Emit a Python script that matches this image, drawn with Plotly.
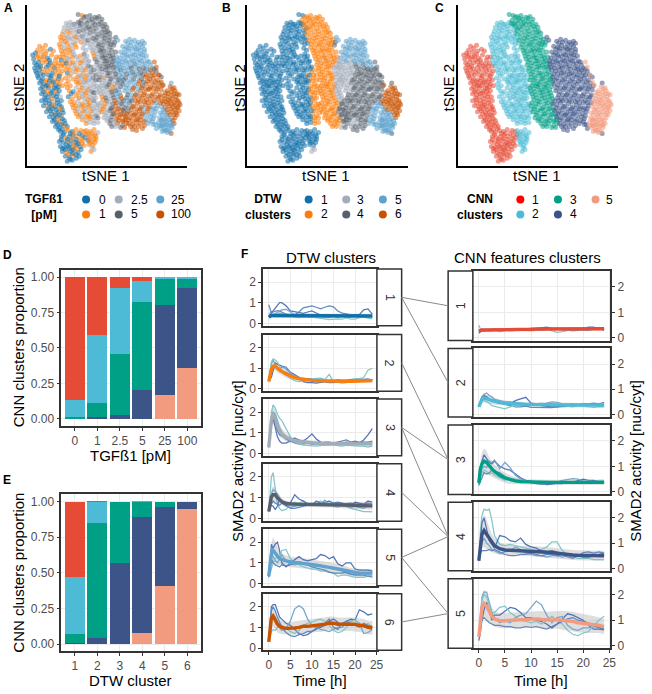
import plotly.graph_objects as go

W, H = 652, 694
FONT = "Liberation Sans"
TICK_C = "#4d4d4d"
EDGE = "#333333"
GRID = "#ebebeb"

TABLEAU = ["#1170AA", "#FC7D0B", "#A3ACB9", "#57606C", "#5FA2CE", "#C85200"]
NPG = ["#E64B35", "#4DBBD5", "#00A087", "#3C5488", "#F39B7F"]
THIN = {"dark": "#4A6FB5", "dark2": "#5B84BC", "mid": "#6FA3C9", "teal": "#7FC3C6"}

# tSNE points grouped by CNN cluster: (tsne1, tsne2, dtw cluster, TGF dose index)
CNN1_POINTS = [(13,121,1,1),(16,119,1,1),(19,122,1,1),(11,117,1,1),(15,115,1,1),(20,116,1,1),(24,118,1,0),(9,114,1,0),
(7,108,1,0),(10,110,1,1),(13,108,1,1),(17,111,1,1),(21,109,1,0),(25,112,1,1),(29,107,1,1),(33,110,1,1),(8,104,1,0),(12,105,1,0),(16,104,1,1),(20,105,1,1),(24,104,1,0),(28,103,1,1),(32,104,1,1),
(8,99,1,0),(12,100,1,0),(16,98,1,1),(20,100,1,0),(24,98,1,1),(28,99,1,0),(32,97,1,1),(10,94,1,0),(14,93,1,0),(18,95,1,1),(22,92,1,0),(26,94,1,0),(30,92,1,1),(34,93,1,1),(12,89,1,0),(16,88,1,0),(20,87,1,1),(24,89,1,0),(28,87,1,1),(32,88,1,0),
(13,84,1,0),(17,83,1,0),(21,82,1,0),(25,84,1,1),(29,82,1,0),(33,83,1,1),(14,78,1,0),(18,77,1,1),(22,79,1,0),(26,76,1,0),(30,78,1,0),(15,73,1,0),(19,72,1,0),(23,73,1,1),(27,71,1,0),(31,73,1,0),(34,70,1,2),
(15,66,1,0),(19,67,1,0),(23,66,1,0),(27,65,1,2),(31,67,1,0),(17,61,1,0),(21,60,1,1),(25,61,1,0),(29,60,1,0),(33,62,1,0),(20,55,1,0),(24,56,1,0),(28,54,1,1),(32,55,1,0),(36,57,1,0),(23,50,1,0),(27,49,1,0),(31,50,1,0),(35,51,1,1),
(26,45,1,0),(30,44,1,0),(34,45,1,1),(38,46,1,0),(29,40,1,0),(33,39,1,0),(37,41,1,1),(41,40,1,0),
(34,35,1,0),(38,34,1,0),(42,36,1,1),(46,35,1,0),(50,37,1,1),(55,36,1,1),(35,30,1,0),(39,29,1,1),(43,30,1,0),(47,31,1,0),(51,30,1,1),(56,31,1,0),(60,32,1,1),
(33,25,1,0),(37,24,1,0),(41,25,1,1),(45,26,1,0),(49,24,1,0),(53,25,1,1),(57,26,1,1),(34,20,1,0),(38,19,1,0),(42,20,1,0),(46,19,1,1),(50,21,1,0),(54,20,1,0),(58,21,1,1),
(36,15,1,0),(40,14,1,1),(44,15,1,0),(48,16,1,1),(52,14,1,0),(39,10,1,0),(43,9,1,0),(47,11,1,1),(46,6,1,0),(50,8,1,0),(53,10,1,0),
(11,112,1,1),(15,110,1,1),(19,113,1,1),(23,107,1,0),(27,116,1,1),(31,101,1,1),(6,112,1,0),(10,102,1,0),(14,101,1,0),(18,107,1,1),(22,102,1,0),(26,101,1,1),(30,110,1,1),(35,101,1,1),(36,96,1,1),(9,96,1,0),(13,97,1,0),(17,92,1,0),(21,96,1,1),(25,91,1,0),(29,96,1,1),(33,91,1,0),(11,91,1,0),(15,86,1,0),(19,85,1,1),(23,86,1,0),(27,85,1,0),(31,85,1,1),(35,87,1,1),(16,80,1,0),(20,81,1,0),(24,81,1,1),(28,79,1,0),(32,80,1,0),(36,81,1,1),(17,75,1,0),(21,75,1,1),(25,74,1,0),(29,75,1,1),(33,76,1,0),(18,69,1,0),(22,70,1,0),(26,68,1,1),(30,70,1,0),(35,66,1,0),(19,64,1,0),(23,63,1,0),(27,62,1,1),(31,64,1,0),(35,60,1,0),(22,58,1,0),(26,58,1,0),(30,57,1,0),(34,58,1,1),(25,53,1,0),(29,52,1,0),(33,52,1,0),(37,54,1,0),(28,47,1,0),(32,47,1,1),(36,48,1,0),(31,42,1,0),(35,42,1,0),(39,43,1,0),(32,37,1,0),(36,37,1,0),(40,38,1,1),(44,33,1,0),(48,33,1,1),(53,33,1,0),(58,35,1,1),(37,32,1,0),(41,27,1,0),(46,28,1,1),(50,27,1,0),(55,28,1,1),(59,29,1,0),(35,27,1,0),(40,22,1,0),(44,22,1,0),(48,22,1,1),(52,23,1,0),(56,23,1,1),(36,18,1,0),(39,17,1,0),(43,18,1,0),(47,17,1,0),(51,18,1,1),(55,17,1,0),(42,12,1,1),(46,13,1,0),(50,12,1,0),(44,7,1,0),(41,5,1,0)]

CNN2_POINTS = [(40,144,1,2),(44,145,1,2),(48,143,1,3),(52,145,1,3),(38,140,1,2),(42,139,1,2),(46,140,1,2),(50,138,1,2),(54,141,1,3),(57,137,1,3),
(36,133,1,1),(40,132,1,2),(44,134,1,1),(48,131,1,2),(52,133,1,2),(56,131,1,3),(35,127,1,1),(39,126,1,1),(43,128,1,2),(47,125,1,2),(51,127,1,2),(55,125,1,1),(59,127,1,2),
(34,120,1,1),(38,119,1,2),(42,120,1,1),(46,118,1,2),(50,120,1,1),(57,119,1,2),(36,113,1,1),(40,112,1,1),(44,114,1,1),(48,112,1,2),(58,113,1,3),(35,107,1,0),(39,106,1,1),(43,108,1,2),(47,105,1,1),(52,107,1,2),(56,106,1,1),(60,108,1,2),
(38,101,1,1),(42,100,1,1),(46,102,1,2),(50,99,1,1),(54,101,1,2),(58,99,1,2),(62,101,1,3),(41,94,1,0),(45,93,1,2),(49,95,1,1),(53,92,1,2),(57,94,1,1),(61,92,2,2),(65,95,2,3),(39,89,1,1),(47,88,1,1),(51,87,1,2),(55,89,1,2),(59,87,1,1),(63,88,2,2),(67,89,2,3),
(40,83,1,1),(44,81,1,1),(52,83,1,1),(56,82,1,2),(60,84,1,2),(64,81,2,2),(68,83,2,2),(43,76,1,1),(47,75,1,0),(54,77,1,1),(58,75,1,2),(62,77,1,1),(66,75,2,3),(70,77,2,2),(42,70,1,0),(50,71,1,1),(56,70,1,2),(60,71,1,1),(64,69,1,2),(68,71,2,2),
(44,65,1,1),(48,64,1,1),(52,66,1,2),(56,63,1,1),(60,65,1,2),(64,64,1,1),(68,66,2,3),(72,63,2,2),(47,59,1,1),(51,58,1,2),(55,60,1,1),(59,58,1,2),(63,60,1,1),(67,58,2,2),(71,59,2,2),(50,53,1,1),(54,52,1,1),(58,54,1,2),(62,52,1,1),(66,53,2,2),(70,51,2,3),(56,47,1,1),(60,46,1,2),(64,48,1,1),(68,46,2,2),
(60,36,1,1),(64,35,1,1),(68,37,1,1),(61,31,1,2),(65,30,1,1),(69,32,1,1),(72,34,1,2),(62,26,1,0),(66,25,1,1),(70,27,1,1),(63,22,1,1),(67,21,1,1),(65,15,3,1),(68,17,3,2),
(42,142,1,2),(46,143,1,2),(50,141,1,2),(56,143,1,3),(60,139,1,3),(37,136,1,2),(41,136,1,1),(45,137,1,2),(49,135,1,2),(53,136,1,3),(58,134,1,2),(34,130,1,1),(38,129,1,1),(42,130,1,2),(46,129,1,2),(50,130,1,1),(54,129,1,2),(58,129,1,2),(61,124,1,2),(33,123,1,1),(37,123,1,2),(41,124,1,1),(45,122,1,2),(49,123,1,1),(58,123,1,2),(35,116,1,1),(39,116,1,1),(43,117,1,1),(47,115,1,2),(60,117,1,2),(61,111,1,2),(37,110,1,1),(41,109,1,2),(46,110,1,1),(50,110,1,2),(54,111,1,1),(58,110,1,2),(63,106,1,2),(36,103,1,1),(40,104,1,0),(44,104,1,1),(49,103,1,2),(54,104,1,1),(58,104,1,2),(62,105,1,2),(65,100,1,3),(40,97,1,1),(44,97,1,1),(48,98,1,2),(52,97,1,1),(56,97,1,2),(60,97,1,1),(64,98,1,2),(68,97,2,3),(43,91,1,1),(51,90,1,1),(55,91,1,2),(59,90,1,1),(63,92,1,2),(67,92,2,2),(70,92,2,3),(42,86,1,1),(50,85,1,1),(54,85,1,1),(58,85,1,2),(62,86,1,2),(66,86,2,2),(70,87,2,3),(41,79,1,1),(50,79,1,2),(56,79,1,1),(60,79,1,2),(64,78,2,2),(68,80,2,2),(71,81,2,2),(45,73,1,0),(52,74,1,1),(56,73,1,2),(60,74,1,1),(64,73,2,2),(68,74,2,3),(72,74,2,2),(46,68,1,1),(53,69,1,1),(58,68,1,2),(62,67,1,1),(66,68,2,2),(70,69,2,2),(46,62,1,1),(50,61,1,1),(54,62,1,2),(58,61,1,1),(62,62,1,1),(66,61,2,2),(70,62,2,2),(74,57,2,2),(49,56,1,1),(53,55,1,2),(57,56,1,1),(61,56,1,2),(65,56,1,1),(69,56,2,2),(73,54,2,2),(52,50,1,1),(56,50,1,2),(60,50,1,1),(64,50,1,1),(68,49,2,2),(72,49,2,3),(60,43,1,1),(64,44,1,2),(68,43,2,2),(72,44,2,2),(62,33,1,1),(66,33,1,1),(70,30,1,1),(63,28,1,1),(68,28,1,1),(64,24,1,1),(69,24,1,1),(66,19,3,2)]

CNN3_POINTS = [(52,153,1,3),(56,152,1,1),(60,151,2,3),(64,152,2,3),(69,150,2,3),(73,151,2,3),(55,147,2,3),(59,146,2,2),(63,147,2,3),(67,145,2,3),(71,146,2,2),(75,145,2,3),(79,143,2,3),(58,141,2,2),(62,140,2,3),(66,141,2,3),(70,139,2,3),(74,140,2,2),(78,138,2,3),(82,136,2,3),
(60,133,2,2),(64,134,2,3),(68,132,2,2),(72,133,2,3),(76,131,2,3),(80,132,2,3),(84,130,2,3),(62,127,2,3),(66,126,2,2),(70,127,2,3),(74,125,2,2),(78,126,2,3),(82,124,2,3),(86,125,2,2),(64,120,2,2),(68,119,2,2),(72,121,2,3),(76,119,2,3),(80,118,2,2),(84,120,2,3),(88,122,4,3),
(67,114,2,1),(71,113,2,2),(75,115,2,3),(79,112,2,3),(83,114,2,3),(87,112,2,3),(69,108,2,3),(73,107,2,2),(77,109,2,3),(81,106,2,3),(85,108,2,3),(89,106,2,4),(70,102,2,2),(74,101,2,3),(78,103,2,3),(82,101,2,3),(86,102,2,3),(90,100,3,4),
(72,96,2,2),(76,95,2,2),(80,97,2,3),(84,94,2,3),(88,96,3,3),(92,95,3,4),(74,90,2,3),(78,89,2,1),(82,91,2,3),(86,89,2,2),(90,90,3,3),(94,88,3,4),(76,84,2,2),(80,83,2,2),(84,85,2,3),(88,83,2,2),(92,84,3,3),
(73,79,2,2),(77,78,2,2),(81,80,2,3),(85,77,2,1),(89,79,3,2),(93,77,3,4),(75,73,2,2),(79,72,2,2),(83,74,2,2),(87,72,2,3),(91,73,3,4),(95,71,3,5),(77,67,2,1),(81,66,2,3),(85,68,2,2),(89,66,2,5),(93,67,3,4),
(74,61,2,2),(78,60,2,1),(82,62,2,2),(86,59,2,3),(90,61,2,5),(94,59,4,4),(76,55,2,1),(80,54,2,2),(84,56,2,3),(88,53,2,5),(92,55,4,5),(96,53,4,5),(78,49,2,2),(82,48,2,2),(86,50,2,3),(90,47,2,5),(94,49,4,5),(98,46,4,5),(84,43,2,3),(88,42,2,2),(92,43,2,5),(97,41,3,3),(101,43,4,5),
(58,150,2,3),(62,149,2,2),(66,148,2,3),(71,149,2,3),(76,148,2,3),(54,144,1,3),(57,143,2,2),(61,144,2,3),(65,143,2,2),(69,143,2,3),(73,143,2,3),(77,141,2,3),(81,140,2,3),(60,137,2,2),(64,138,2,3),(68,136,2,3),(72,136,2,2),(76,135,2,3),(80,135,2,3),(84,134,2,3),(87,128,2,2),(63,130,2,2),(67,129,2,3),(71,130,2,3),(75,128,2,2),(79,129,2,3),(83,127,2,3),(89,125,4,3),(65,123,2,2),(69,123,2,2),(73,123,2,3),(77,122,2,3),(81,122,2,2),(85,123,2,3),(66,117,2,2),(70,116,2,2),(74,117,2,3),(78,116,2,3),(82,117,2,2),(86,117,2,3),(90,115,2,3),(68,111,2,1),(72,110,2,2),(76,111,2,3),(80,109,2,3),(84,111,2,3),(88,109,2,3),(91,110,2,4),(71,105,2,3),(75,104,2,2),(79,106,2,3),(83,104,2,3),(87,105,2,3),(91,104,3,4),(72,99,2,2),(76,98,2,3),(80,100,2,3),(84,99,2,3),(88,100,3,3),(92,99,3,4),(74,93,2,2),(78,92,2,2),(82,94,2,3),(86,92,2,2),(90,93,3,3),(94,92,3,4),(73,87,2,3),(77,87,2,2),(81,86,2,2),(85,88,2,3),(89,86,3,2),(93,87,3,3),(96,85,3,4),(75,81,2,2),(79,81,2,2),(83,82,2,3),(87,80,2,1),(91,81,3,2),(95,80,3,3),(74,76,2,2),(78,75,2,2),(82,77,2,2),(86,75,2,3),(90,76,3,3),(94,74,3,4),(76,70,2,1),(80,69,2,3),(84,71,2,2),(88,69,2,3),(92,70,3,4),(96,68,3,5),(75,64,2,2),(79,63,2,1),(83,65,2,2),(87,63,2,3),(91,64,2,5),(95,63,4,4),(77,58,2,1),(81,57,2,2),(85,58,2,3),(89,57,2,5),(93,58,4,5),(97,57,4,5),(79,52,2,2),(83,51,2,2),(87,53,2,3),(91,51,2,5),(95,52,4,5),(99,51,4,5),(81,46,2,2),(85,46,2,3),(89,45,2,2),(93,46,2,5),(97,45,4,5),(100,47,4,5),(86,40,2,3),(90,40,2,2),(95,39,3,3),(99,39,4,5)]

CNN4_POINTS = [(100,126,5,4),(104,128,5,4),(109,127,5,4),(113,125,5,4),(117,126,5,4),(97,121,5,4),(101,120,5,4),(105,122,5,4),(109,120,5,4),(113,119,5,4),(117,121,5,4),(95,115,5,4),(99,114,5,4),(103,116,5,4),(107,113,5,4),(111,115,5,4),(115,113,5,4),(119,115,5,4),(90,130,5,3),(92,127,5,4),
(94,109,5,4),(98,108,5,4),(102,110,5,4),(106,107,3,4),(110,109,5,4),(114,107,5,4),(118,109,5,4),(122,106,5,4),(93,103,3,4),(97,102,3,4),(101,104,3,4),(105,101,3,4),(109,103,4,3),(113,101,5,4),(117,103,4,4),(121,100,5,4),(125,102,5,4),
(95,97,3,3),(99,96,3,4),(103,97,3,4),(107,95,3,3),(111,96,4,4),(115,94,4,3),(119,96,4,3),(123,95,4,4),(127,94,4,5),(131,96,4,3),(96,90,3,4),(100,89,3,3),(104,91,3,4),(108,88,4,3),(112,90,4,4),(116,88,4,3),(120,90,4,5),(124,88,4,5),(128,89,4,5),(132,87,4,5),(136,90,4,3),
(97,83,3,3),(101,82,3,4),(105,84,4,4),(109,81,4,4),(113,83,4,5),(117,81,4,3),(121,83,4,5),(125,80,4,5),(129,82,4,5),(133,80,4,5),(137,81,4,5),(99,76,3,4),(103,75,3,4),(107,77,4,5),(111,74,4,4),(115,76,4,5),(119,74,4,5),(123,77,4,5),(127,73,4,5),(131,75,4,5),(135,72,4,5),(101,69,4,3),(105,68,4,4),(109,70,4,5),(113,67,4,5),(117,69,4,5),(121,67,4,5),(125,68,4,5),(129,66,4,5),(133,68,4,5),
(96,63,4,3),(100,62,4,4),(104,64,4,3),(108,61,4,5),(112,63,4,5),(116,60,4,5),(120,62,4,5),(124,60,4,5),(128,59,5,4),(132,61,5,4),(98,56,4,3),(102,55,4,3),(106,57,4,5),(110,54,4,5),(114,56,4,5),(118,54,4,4),(122,55,4,5),(126,53,5,4),(130,55,5,4),
(100,50,4,5),(104,49,4,5),(108,51,4,5),(112,48,4,5),(116,50,4,5),(120,47,4,4),(124,46,5,4),(128,48,5,4),(103,43,3,5),(107,42,3,5),(111,44,3,5),(115,43,4,5),(119,41,4,5),(128,42,5,4),(131,38,5,4),(107,37,4,5),(111,36,4,5),(146,33,4,5),(146,84,4,4),
(102,124,5,4),(106,125,5,4),(111,123,5,4),(115,123,5,4),(119,124,5,4),(99,118,5,4),(103,119,5,4),(107,118,5,4),(111,118,5,4),(115,117,5,4),(119,118,5,4),(97,112,5,4),(101,112,5,4),(105,111,5,4),(109,112,5,4),(113,111,5,4),(117,112,5,4),(121,111,5,4),(93,106,3,4),(96,105,3,4),(100,106,5,4),(104,105,3,4),(108,106,5,4),(112,105,5,4),(116,106,5,4),(120,104,5,4),(124,105,5,4),(127,99,5,4),(94,100,3,4),(98,99,3,4),(102,100,3,4),(106,99,3,3),(110,100,4,4),(114,98,4,3),(118,99,4,3),(122,98,4,4),(125,97,4,5),(129,98,4,3),(133,92,4,5),(97,93,3,4),(101,93,3,3),(105,94,3,4),(109,92,4,3),(113,93,4,4),(117,92,4,3),(121,92,4,5),(125,91,4,5),(129,92,4,5),(98,87,3,3),(102,86,3,4),(106,87,4,4),(110,85,4,4),(114,86,4,5),(118,85,4,3),(122,86,4,5),(126,85,4,5),(130,85,4,5),(134,84,4,5),(100,79,3,4),(104,79,3,4),(108,79,4,5),(112,78,4,4),(116,79,4,5),(120,78,4,5),(124,78,4,5),(128,78,4,5),(132,78,4,5),(136,77,4,5),(102,72,4,3),(106,72,4,4),(110,72,4,5),(114,71,4,5),(118,72,4,5),(122,71,4,5),(126,71,4,5),(130,70,4,5),(134,70,4,5),(98,66,4,3),(102,66,4,4),(106,66,4,3),(110,66,4,5),(115,65,4,5),(119,65,4,5),(123,64,4,5),(127,64,4,5),(131,64,5,4),(135,64,4,5),(99,59,4,3),(103,59,4,3),(107,60,4,5),(111,58,4,5),(115,58,4,5),(119,58,4,4),(123,58,4,5),(127,57,5,4),(131,58,5,4),(101,53,4,5),(105,53,4,5),(109,52,4,5),(113,52,4,5),(117,53,4,5),(121,51,4,4),(125,50,5,4),(129,51,5,4),(103,47,4,5),(107,46,3,5),(111,47,3,5),(115,47,4,5),(119,45,4,5),(123,43,5,4),(105,40,3,5),(109,40,4,5),(113,40,4,5),(117,38,4,5),(127,45,5,4),(130,42,5,4)]

CNN5_POINTS = [(129,105,4,5),(131,100,4,5),(134,92,4,5),(136,85,4,5),(138,82,6,5),
(145,80,6,5),(149,79,6,5),(142,76,6,5),(146,75,6,5),(150,76,6,5),(139,71,6,5),(143,70,6,5),(147,71,6,5),(151,70,6,5),(154,72,6,5),(137,66,6,5),(141,65,6,5),(145,66,6,5),(149,64,6,5),(153,66,6,5),(136,60,5,4),(140,59,6,5),(144,61,6,5),(148,60,6,5),(152,59,6,5),(155,62,6,5),(135,54,5,4),(139,55,5,4),(143,54,5,5),(147,55,6,5),(151,54,6,5),(154,56,6,5),(134,49,5,4),(138,48,5,4),(142,50,5,4),(146,48,5,4),(150,49,6,5),(133,44,5,4),(137,43,5,4),(141,45,5,4),(145,44,5,4),(149,43,5,5),(135,39,5,4),(139,38,5,4),(143,40,5,4),(147,39,5,4),(137,35,5,4),(141,36,5,4),(145,35,5,4),(136,41,5,4),(140,42,5,4),(144,47,5,4),(136,46,5,4),
(143,73,6,5),(147,78,6,5),(140,74,6,5),(149,73,6,5),(152,73,6,5),(139,68,6,5),(143,67,6,5),(147,68,6,5),(151,67,6,5),(138,63,6,5),(142,63,6,5),(146,63,6,5),(150,62,6,5),(154,64,6,5),(138,57,5,4),(142,57,6,5),(146,58,6,5),(150,57,6,5),(153,60,6,5),(137,52,5,4),(141,52,5,4),(145,52,5,5),(149,52,6,5),(152,52,6,5),(136,47,5,4),(140,47,5,4),(148,46,5,5),(134,41,5,4),(138,41,5,4),(142,42,5,4),(146,41,5,4),(139,36,5,4),(143,37,5,4),(147,42,5,4),(142,34,5,4)]

CNN_GROUPS = [CNN1_POINTS, CNN2_POINTS, CNN3_POINTS, CNN4_POINTS, CNN5_POINTS]

TGF_LABELS = ["0", "1", "2.5", "5", "25", "100"]
DTW_LABELS = ["1", "2", "3", "4", "5", "6"]
CNN_LABELS = ["1", "2", "3", "4", "5"]

# Stacked proportions, one list per CNN cluster
D_CNN1 = [0.865, 0.41, 0.08, 0.03, 0.0, 0.0]
D_CNN2 = [0.125, 0.475, 0.46, 0.145, 0.015, 0.01]
D_CNN3 = [0.01, 0.105, 0.43, 0.62, 0.185, 0.07]
D_CNN4 = [0.0, 0.01, 0.03, 0.205, 0.63, 0.56]
D_CNN5 = [0.0, 0.0, 0.0, 0.0, 0.17, 0.36]

E_CNN1 = [0.53, 0.005, 0.0, 0.0, 0.0, 0.0]
E_CNN2 = [0.40, 0.145, 0.0, 0.005, 0.0, 0.0]
E_CNN3 = [0.06, 0.81, 0.43, 0.10, 0.04, 0.0]
E_CNN4 = [0.01, 0.04, 0.57, 0.82, 0.555, 0.05]
E_CNN5 = [0.0, 0.0, 0.0, 0.075, 0.405, 0.95]

# Time courses
TIME = [0,.3,.6,1,1.5,2,2.5,3,4,5,6,7,8,9,10,11,12,13,14,15,16,17,18,19,20,21,22,23,24]

DTW1_MEAN = [.30,.36,.38,.38,.38,.38,.38,.38,.37,.37,.37,.37,.37,.37,.37,.36,.36,.36,.36,.36,.36,.36,.36,.36,.36,.36,.36,.36,.36]
DTW1_SD = [.08,.1,.12,.12,.12,.12,.12,.12,.12,.12,.12,.12,.12,.12,.12,.12,.11,.11,.11,.11,.1,.1,.1,.1,.1,.1,.1,.1,.1]
DTW1_LINES = [("dark",[.35,.45,.55,.6,.75,.85,1.0,1.0,.85,.6,.55,.5,.48,.55,.6,.5,.4,.35,.35,.38,.32,.35,.4,.38,.42,.42,.65,.7,.45]),
("dark2",[.9,.65,.5,.55,.6,.62,.6,.55,.45,.4,.4,.55,.75,.8,.85,.78,.7,.78,.85,.8,.6,.5,.45,.42,.4,.38,.35,.38,.35]),
("mid",[.3,.35,.4,.42,.48,.55,.6,.65,.68,.55,.42,.35,.38,.32,.3,.28,.32,.3,.28,.35,.3,.38,.28,.3,.38,.3,.38,.35,.33]),
("teal",[.5,.45,.4,.4,.45,.42,.5,.48,.42,.38,.3,.28,.3,.3,.32,.28,.25,.22,.18,.2,.22,.2,.28,.2,.2,.28,.3,.25,.22])]

DTW2_MEAN = [.35,.7,.95,1.1,1.12,1.0,.9,.85,.72,.62,.55,.5,.46,.43,.41,.4,.39,.38,.38,.38,.37,.37,.37,.37,.38,.38,.39,.39,.4]
DTW2_SD = [.05,.1,.15,.2,.22,.22,.2,.2,.18,.15,.12,.1,.1,.1,.1,.1,.09,.09,.09,.09,.09,.09,.09,.09,.09,.09,.09,.09,.09]
DTW2_LINES = [("dark",[.55,.6,.55,.9,1.25,1.2,1.15,1.1,1.05,.8,.7,.55,.35,.3,.3,.28,.32,.35,.3,.3,.32,.35,.38,.4,.4,.42,.42,.45,.45]),
("mid",[.4,.9,1.2,1.4,1.2,.95,.9,1.1,.95,.75,.6,.5,.45,.5,.48,.45,.5,.42,.4,.4,.4,.38,.4,.35,.38,.35,.4,.38,.42]),
("teal",[.4,.9,1.3,1.45,1.4,1.3,1.1,.9,.7,.5,.4,.35,.4,.48,.5,.5,.52,.45,.7,.35,.3,.28,.3,.45,.5,.5,.55,.9,1.0]),
("dark2",[.5,.7,.9,1.0,1.15,1.05,.85,.85,.8,.7,.55,.45,.45,.5,.45,.45,.42,.38,.32,.35,.45,.4,.42,.45,.42,.45,.45,.48,.42])]

DTW3_MEAN = [.3,1.0,1.6,1.9,1.7,1.35,1.1,.95,.78,.68,.6,.58,.55,.53,.5,.5,.48,.48,.47,.47,.46,.46,.46,.46,.46,.46,.46,.46,.46]
DTW3_SD = [.1,.2,.4,.45,.42,.35,.3,.25,.2,.15,.12,.12,.12,.12,.12,.12,.12,.12,.12,.12,.12,.12,.12,.12,.12,.12,.12,.12,.12]
DTW3_LINES = [("dark",[.3,1.0,1.6,1.7,1.2,.8,.6,.5,.5,.6,.75,.65,.6,.75,.95,.7,.55,.5,.45,.5,.45,.5,.55,.5,.55,.5,.65,.9,1.2]),
("mid",[.3,1.0,1.8,2.0,1.9,1.6,1.2,1.0,.7,.6,.5,.45,.45,.5,.48,.45,.42,.4,.45,.42,.42,.45,.42,.45,.45,.5,.5,.5,.5]),
("teal",[.3,1.2,2.0,2.35,2.2,1.9,1.7,1.6,1.2,.8,.55,.45,.4,.38,.35,.35,.38,.42,.4,.42,.38,.35,.4,.38,.35,.35,.35,.3,.35]),
("dark2",[.35,.9,1.4,1.7,1.5,1.1,.9,.85,.7,.6,.55,.55,.5,.5,.45,.5,.5,.55,.55,.5,.55,.6,.65,.55,.6,.55,.55,.55,.6])]

DTW4_MEAN = [.35,.75,1.05,1.15,1.15,1.0,.9,.82,.72,.7,.69,.69,.69,.69,.68,.68,.68,.68,.67,.67,.67,.66,.66,.65,.65,.64,.63,.62,.62]
DTW4_SD = [.08,.2,.35,.4,.35,.25,.2,.17,.15,.13,.12,.12,.12,.12,.12,.12,.12,.13,.13,.13,.14,.15,.16,.17,.18,.18,.18,.18,.18]
DTW4_LINES = [("teal",[.35,1.2,2.0,2.2,1.4,.7,.5,.4,.45,.7,.8,.75,.85,.75,.7,.75,.85,.7,.85,.6,.55,.65,.6,.5,.45,.4,.35,.35,.33]),
("dark",[.4,.6,.65,.6,.45,.6,.95,.85,.8,.75,1.15,.95,.85,.7,.65,.85,.75,.8,.85,.75,.8,.75,.7,.65,.8,.75,.7,.85,.8]),
("mid",[.35,.8,1.2,1.4,1.3,1.2,1.0,.8,.6,.55,.6,.65,.7,.68,.75,.7,.72,.9,.7,.7,.75,.7,.6,.55,.6,.55,.5,.6,.6]),
("dark2",[.4,.5,.7,.85,.75,.7,.65,.75,.65,.5,.5,.55,.6,.65,.65,.7,.7,.7,.65,.7,.72,.7,.72,.75,.7,.7,.7,.75,.7])]

DTW5_MEAN = [.35,1.0,1.45,1.6,1.45,1.3,1.2,1.15,1.08,1.05,1.02,1.0,.98,.95,.92,.88,.85,.8,.78,.74,.7,.66,.6,.55,.52,.5,.5,.5,.5]
DTW5_SD = [.1,.3,.5,.65,.55,.42,.32,.28,.27,.25,.25,.25,.25,.25,.25,.25,.25,.25,.25,.25,.25,.22,.2,.2,.2,.2,.2,.2,.2]
DTW5_LINES = [("dark",[.3,1.4,1.9,1.7,1.9,2.0,1.6,1.0,.8,1.0,1.15,1.3,1.15,1.1,1.15,1.2,1.4,1.35,1.2,1.3,.95,.85,1.0,1.0,.7,.65,.65,.65,.6]),
("mid",[.35,1.0,1.5,1.3,1.1,1.0,1.2,1.4,1.1,.95,.9,.95,1.0,.95,.85,.9,.9,.8,.75,.7,.7,.6,.5,.45,.45,.45,.5,.45,.5]),
("teal",[.4,.5,.7,1.0,1.2,1.3,1.2,1.6,1.65,1.2,1.0,.9,.8,.75,.7,.7,.6,.6,.55,.5,.35,.4,.4,.35,.3,.3,.3,.35,.3]),
("dark2",[.6,1.1,1.2,1.0,.9,.85,.8,.9,.85,.9,1.0,1.05,1.0,.9,.8,.75,.7,.65,.55,.5,.5,.5,.55,.45,.4,.4,.4,.35,.35])]

DTW6_MEAN = [.3,1.0,1.45,1.55,1.35,1.15,1.05,1.0,.95,.95,.97,1.0,1.05,1.05,1.07,1.1,1.1,1.15,1.2,1.2,1.15,1.15,1.15,1.15,1.15,1.1,1.08,1.0,.97]
DTW6_SD = [.1,.3,.45,.5,.45,.4,.35,.33,.3,.3,.33,.33,.33,.33,.33,.33,.33,.33,.33,.33,.33,.33,.33,.33,.33,.33,.33,.33,.33]
DTW6_LINES = [("dark",[.4,1.5,2.0,2.1,2.1,1.8,1.5,1.4,1.2,1.1,.9,.7,.6,.65,.8,.95,1.0,1.1,1.3,1.4,1.25,1.1,1.3,1.4,1.35,1.85,1.75,1.6,1.65]),
("mid",[.35,.8,1.3,1.6,1.5,1.3,1.0,.85,.95,1.3,1.9,2.05,1.9,1.4,1.1,1.0,.9,.85,.8,.9,1.0,1.0,1.2,1.3,1.35,1.2,.7,.75,.9]),
("teal",[.35,.6,.8,.9,.85,1.0,1.2,1.1,.95,.8,.7,.85,1.1,1.2,1.25,1.35,1.4,1.3,1.1,.85,.75,.8,1.0,1.3,1.35,1.2,1.05,1.2,1.0]),
("dark2",[.4,1.2,1.8,2.0,1.8,1.5,1.2,1.0,.75,.6,.55,.65,.7,.8,.8,.9,1.1,1.2,1.4,1.0,.9,1.2,1.3,1.15,1.1,1.0,1.2,1.1,1.05])]

FC1_MEAN = [.27,.3,.31,.31,.31,.31,.31,.31,.32,.32,.32,.33,.33,.33,.34,.35,.35,.35,.35,.35,.35,.35,.35,.35,.36,.36,.36,.36,.36]
FC1_SD = [.06,.06,.06,.06,.06,.06,.06,.06,.06,.06,.06,.06,.06,.06,.06,.06,.06,.06,.06,.06,.06,.06,.06,.06,.06,.06,.06,.06,.06]
FC1_LINES = [("dark",[.18,.25,.3,.28,.32,.28,.3,.35,.33,.3,.35,.3,.35,.32,.35,.38,.4,.42,.38,.35,.33,.3,.35,.35,.38,.42,.42,.35,.35]),
("teal",[.5,.35,.3,.25,.28,.3,.28,.3,.25,.3,.32,.35,.3,.3,.28,.3,.33,.35,.28,.22,.25,.3,.3,.33,.3,.32,.4,.38,.3]),
("mid",[.3,.28,.35,.3,.33,.32,.35,.3,.35,.32,.28,.3,.32,.35,.38,.35,.3,.33,.35,.38,.35,.3,.28,.3,.33,.3,.35,.35,.32])]

FC2_MEAN = [.3,.45,.6,.65,.62,.58,.55,.52,.47,.45,.43,.42,.41,.4,.39,.39,.38,.38,.37,.37,.36,.36,.36,.36,.36,.36,.36,.36,.37]
FC2_SD = [.05,.1,.15,.17,.16,.15,.14,.13,.12,.1,.1,.08,.08,.08,.08,.08,.08,.08,.08,.08,.08,.08,.08,.08,.08,.08,.08,.08,.08]
FC2_LINES = [("dark",[.35,.5,.65,.75,.7,.6,.55,.5,.45,.42,.42,.55,.62,.68,.45,.42,.35,.32,.3,.3,.33,.32,.33,.36,.4,.4,.38,.33,.35]),
("dark2",[.35,.55,.7,.72,.7,.6,.5,.55,.5,.4,.35,.3,.3,.33,.28,.28,.26,.28,.27,.3,.32,.32,.33,.38,.42,.42,.45,.42,.48]),
("teal",[.38,.5,.6,.55,.5,.45,.35,.32,.25,.22,.3,.35,.35,.38,.4,.42,.45,.42,.44,.38,.35,.34,.3,.35,.33,.3,.28,.3,.3]),
("mid",[.3,.5,.7,.8,.85,.75,.7,.6,.55,.5,.5,.45,.45,.42,.4,.4,.4,.45,.5,.48,.42,.4,.42,.4,.4,.38,.4,.4,.42])]

FC3_MEAN = [.35,.9,1.1,1.2,1.15,1.0,.9,.8,.65,.55,.48,.43,.4,.39,.38,.37,.37,.37,.37,.37,.37,.37,.37,.37,.37,.37,.37,.37,.37]
FC3_SD = [.08,.3,.45,.5,.45,.35,.3,.27,.22,.2,.17,.13,.1,.1,.1,.1,.1,.1,.1,.1,.1,.1,.1,.1,.1,.1,.1,.1,.1]
FC3_LINES = [("dark",[.3,.8,1.2,1.45,1.3,1.15,1.1,1.2,1.0,.9,.85,.7,.55,.45,.42,.35,.3,.28,.3,.33,.32,.38,.38,.45,.5,.45,.45,.42,.4]),
("mid",[.3,.7,.9,1.0,.95,1.2,1.15,1.25,.9,1.15,.95,.65,.5,.45,.35,.33,.3,.33,.35,.38,.45,.48,.52,.5,.42,.4,.4,.4,.38]),
("teal",[.35,.6,.75,.85,.8,.7,.75,.65,.55,.45,.5,.5,.45,.4,.38,.4,.38,.35,.33,.35,.35,.38,.38,.38,.4,.42,.4,.45,.45]),
("dark2",[.25,.4,.6,.75,.7,.75,.85,.8,.75,.6,.45,.4,.42,.4,.35,.32,.3,.35,.36,.4,.4,.38,.36,.35,.35,.38,.35,.38,.38])]

FC4_MEAN = [.3,.9,1.35,1.5,1.35,1.15,1.0,.9,.78,.73,.72,.71,.7,.7,.69,.68,.66,.65,.63,.6,.57,.55,.53,.52,.51,.5,.5,.5,.5]
FC4_SD = [.1,.35,.55,.65,.6,.45,.35,.3,.25,.22,.2,.2,.2,.2,.2,.2,.2,.2,.2,.2,.2,.2,.2,.2,.2,.2,.2,.2,.2]
FC4_LINES = [("teal",[.3,1.5,2.1,2.35,2.3,2.35,1.9,1.3,.95,.9,.95,.9,.85,.8,.75,.7,.75,.85,1.05,1.05,.7,.55,.45,.4,.4,.4,.35,.35,.35]),
("dark",[.3,1.0,1.8,2.0,1.5,1.1,.95,.8,1.3,1.25,1.1,1.05,1.2,.95,.85,.8,.7,.65,.7,.65,.6,.55,.55,.5,.45,.45,.5,.55,.6]),
("mid",[.3,.7,1.0,1.2,1.0,.9,.75,.7,.6,.65,.7,.85,.75,.6,.55,.5,.5,.45,.5,.5,.45,.5,.45,.5,.55,.5,.55,.5,.5]),
("dark2",[.35,.6,.7,.7,.7,.75,.7,.75,.65,.55,.5,.5,.55,.55,.6,.55,.5,.55,.55,.5,.55,.45,.4,.5,.62,.65,.6,.65,.6])]

FC5_MEAN = [.35,1.1,1.5,1.65,1.55,1.35,1.15,1.05,.98,.98,.99,1.0,1.02,1.03,1.05,1.05,1.03,1.0,1.0,1.02,1.0,.97,.95,.9,.88,.85,.83,.8,.75]
FC5_SD = [.12,.35,.5,.55,.5,.42,.35,.3,.3,.3,.3,.3,.3,.3,.3,.3,.33,.33,.35,.35,.37,.38,.38,.38,.37,.35,.33,.3,.3]
FC5_LINES = [("dark",[.2,.5,1.0,1.4,1.7,1.35,1.0,1.2,1.2,1.35,1.5,1.45,1.3,1.1,1.1,1.0,.95,.85,.7,.85,1.05,1.25,1.2,1.1,1.0,.8,.65,.65,.62]),
("mid",[.35,1.2,1.9,2.1,2.1,1.7,1.3,1.1,.9,1.0,.9,1.1,1.2,1.25,1.5,1.75,1.6,1.2,.9,1.1,1.15,.8,.65,.6,.7,.7,.75,.7,.65]),
("teal",[.4,1.3,1.8,2.0,1.9,1.6,1.3,1.3,1.5,1.55,1.3,1.15,1.0,.95,.9,.95,.85,1.0,1.15,1.0,.85,.6,.45,.4,.5,.55,.8,1.0,1.15]),
("dark2",[.4,.8,1.0,1.1,1.0,.9,.85,.8,.8,.75,.75,.7,.7,.75,.72,.75,.7,.65,.75,.85,.95,1.05,1.1,1.0,.95,.9,.8,.72,.65])]

DTW_SERIES = [(DTW1_MEAN, DTW1_SD, DTW1_LINES), (DTW2_MEAN, DTW2_SD, DTW2_LINES), (DTW3_MEAN, DTW3_SD, DTW3_LINES),
              (DTW4_MEAN, DTW4_SD, DTW4_LINES), (DTW5_MEAN, DTW5_SD, DTW5_LINES), (DTW6_MEAN, DTW6_SD, DTW6_LINES)]
CNN_SERIES = [(FC1_MEAN, FC1_SD, FC1_LINES), (FC2_MEAN, FC2_SD, FC2_LINES), (FC3_MEAN, FC3_SD, FC3_LINES),
              (FC4_MEAN, FC4_SD, FC4_LINES), (FC5_MEAN, FC5_SD, FC5_LINES)]

# Which DTW row links to which CNN row
LINKS = [(1,1),(1,2),(2,3),(3,3),(3,4),(4,4),(5,4),(5,5),(6,5)]

# ---------------- layout helpers (pixel geometry -> paper fractions) -------------
def xd(a, b): return [a / W, b / W]
def yd(t, b): return [1 - b / H, 1 - t / H]
def px(x): return x / W
def py(y): return 1 - y / H

fig = go.Figure()
layout = {}
annos, shapes = [], []
n_ax = [0]

def new_axes(xdict, ydict):
    n_ax[0] += 1
    i = n_ax[0]
    s = "" if i == 1 else str(i)
    xdict["anchor"] = "y" + s
    ydict["anchor"] = "x" + s
    layout["xaxis" + s] = xdict
    layout["yaxis" + s] = ydict
    return "x" + s, "y" + s

def text(x, y, s, size=11, color="#000000", angle=0, anchor="center", bold=False):
    annos.append(dict(x=px(x), y=py(y), xref="paper", yref="paper", text=f"<b>{s}</b>" if bold else s,
                      showarrow=False, xanchor=anchor, yanchor="middle", textangle=angle,
                      font=dict(family=FONT, size=size, color=color)))

# ---------------- legends (first subplot, sits beneath all the others) ----------------
xa, ya = new_axes(dict(domain=[0, 1], range=[0, W], visible=False, fixedrange=True),
                  dict(domain=[0, 1], range=[H, 0], visible=False, fixedrange=True))
LEG_ROWS = [201, 216]
LEGENDS = [
    ("TGFß1<br>[pM]", 44, TGF_LABELS, TABLEAU, [87, 120, 162], [98, 130, 171]),
    ("DTW<br>clusters", 271, DTW_LABELS, TABLEAU, [312, 350, 387], [322, 359, 397]),
    ("CNN<br>clusters", 485, CNN_LABELS, ["#FF0000"] + NPG[1:], [526, 564, 602], [536, 574, 611]),
]
for title, tx, labels, cols, dots, texts in LEGENDS:
    annos.append(dict(x=px(tx), y=py(208.5), xref="paper", yref="paper", text=f"<b>{title}</b>", showarrow=False,
                      xanchor="center", yanchor="middle", align="center",
                      font=dict(family=FONT, size=12, color="#000000")))
    kx, ky, kc = [], [], []
    for i, (lab, c) in enumerate(zip(labels, cols)):
        col, row = i // 2, i % 2
        kx.append(dots[col]); ky.append(LEG_ROWS[row]); kc.append(c)
        text(texts[col], LEG_ROWS[row], lab, size=12, anchor="left")
    fig.add_trace(go.Scatter(x=kx, y=ky, mode="markers", xaxis=xa, yaxis=ya, showlegend=False, hoverinfo="skip",
                             marker=dict(color=kc, size=8, line=dict(width=0))))

# ---------------- panels A, B, C ----------------
all_pts = [p for g in CNN_GROUPS for p in g]
cnn_of = [k for k, g in enumerate(CNN_GROUPS) for _ in g]
xs = [p[0] for p in all_pts]
ys = [p[1] for p in all_pts]
col_a = [TABLEAU[p[3]] for p in all_pts]
col_b = [TABLEAU[p[2] - 1] for p in all_pts]
col_c = [NPG[k] for k in cnn_of]

TSNE_PANELS = [
    (27, 189, col_a, "A", 2, 19, 107),
    (250, 412, col_b, "B", 222, 242, 330),
    (462.7, 624.7, col_c, "C", 438, 453, 543),
]
for x0, x1, cols, letter, lx, t2x, t1x in TSNE_PANELS:
    ax = dict(domain=xd(x0, x1), range=[0, 162], showline=True, linecolor="#000000", linewidth=1.5,
              showgrid=False, zeroline=False, showticklabels=False, ticks="")
    ay = dict(domain=yd(5, 167.5), range=[0, 162.5], showline=True, linecolor="#000000", linewidth=1.5,
              showgrid=False, zeroline=False, showticklabels=False, ticks="")
    xa, ya = new_axes(ax, ay)
    fig.add_trace(go.Scatter(x=xs, y=ys, mode="markers", xaxis=xa, yaxis=ya, showlegend=False, hoverinfo="skip",
                             marker=dict(color=cols, size=5, opacity=0.55, line=dict(width=0))))
    text(lx, 8, letter, size=12, anchor="left", bold=True)
    text(t2x, 88, "tSNE 2", size=15, angle=-90)
    text(t1x, 177, "tSNE 1", size=15)

# ---------------- panels D, E ----------------
def box_axis(dom, **kw):
    d = dict(domain=dom, showline=True, mirror=True, linecolor=EDGE, linewidth=1.5, showgrid=True, gridcolor=GRID,
             gridwidth=1, zeroline=False, ticks="outside", ticklen=3, tickwidth=1, tickcolor=EDGE,
             tickfont=dict(family=FONT, size=12, color=TICK_C))
    d.update(kw)
    return d

BAR_PANELS = [
    (272, 429, TGF_LABELS, [D_CNN5, D_CNN4, D_CNN3, D_CNN2, D_CNN1], "D", 257, "TGFß1 [pM]", 459, 350),
    (498, 656, DTW_LABELS, [E_CNN5, E_CNN4, E_CNN3, E_CNN2, E_CNN1], "E", 483, "DTW cluster", 685, 577),
]
for top, bot, cats, stacks, letter, ly, xt, xty, yty in BAR_PANELS:
    xa, ya = new_axes(box_axis(xd(62, 203), type="category", range=[-0.6, 5.6], categoryorder="array", categoryarray=cats),
                      box_axis(yd(top, bot), range=[-0.05, 1.05], tickvals=[0, .25, .5, .75, 1],
                               ticktext=["0.00", "0.25", "0.50", "0.75", "1.00"]))
    for vals, c in zip(stacks, NPG[::-1]):
        fig.add_trace(go.Bar(x=cats, y=vals, xaxis=xa, yaxis=ya, marker=dict(color=c, line=dict(width=0)),
                             width=0.9, showlegend=False, hoverinfo="skip"))
    text(1, ly, letter, size=12, anchor="left", bold=True)
    text(19, yty, "CNN clusters proportion", size=15, angle=-90)
    text(132, xty, xt, size=15)

# ---------------- panel F ----------------
LEFT_ROWS = [(271, 328), (337, 394), (402, 459), (467, 525), (533, 590), (598, 655)]
RIGHT_ROWS = [(273, 343), (351, 420), (428, 498), (506, 575), (583, 653)]

def course_panel(series, color, dom_x, dom_y, xrange, yrange, side, show_x):
    ax = box_axis(dom_x, range=xrange, tickvals=[0, 5, 10, 15, 20, 25],
                  showticklabels=show_x, ticks="outside" if show_x else "")
    ay = box_axis(dom_y, range=yrange, tickvals=[0, 1, 2], side=side)
    xa, ya = new_axes(ax, ay)
    mean, sd, lines = series
    hi = [m + s for m, s in zip(mean, sd)]
    lo = [max(m - s, 0) for m, s in zip(mean, sd)]
    fig.add_trace(go.Scatter(x=TIME + TIME[::-1], y=hi + lo[::-1], fill="toself", mode="lines", xaxis=xa, yaxis=ya,
                             fillcolor="rgba(190,190,190,0.5)", line=dict(width=0), showlegend=False, hoverinfo="skip"))
    for kind, vals in lines:
        fig.add_trace(go.Scatter(x=TIME, y=vals, mode="lines", xaxis=xa, yaxis=ya, showlegend=False, hoverinfo="skip",
                                 line=dict(color=THIN[kind], width=1.25), opacity=0.95))
    fig.add_trace(go.Scatter(x=TIME, y=mean, mode="lines", xaxis=xa, yaxis=ya, showlegend=False, hoverinfo="skip",
                             line=dict(color=color, width=3.4)))

for i, (t, b) in enumerate(LEFT_ROWS):
    course_panel(DTW_SERIES[i], TABLEAU[i], xd(266, 381), yd(t, b), [-1.31, 25.07], [-0.11, 2.63], "left", i == 5)
    shapes.append(dict(type="rect", xref="paper", yref="paper", x0=px(381), x1=px(406), y0=py(t), y1=py(b),
                       line=dict(color=EDGE, width=1.5), fillcolor="#ffffff"))
    text(393.5, (t + b) / 2, DTW_LABELS[i], size=12.5, color="#333333", angle=90)

for i, (t, b) in enumerate(RIGHT_ROWS):
    course_panel(CNN_SERIES[i], NPG[i], xd(478, 617), yd(t, b), [-1.14, 25.2], [-0.1, 2.62], "right", i == 4)
    shapes.append(dict(type="rect", xref="paper", yref="paper", x0=px(453), x1=px(478), y0=py(t), y1=py(b),
                       line=dict(color=EDGE, width=1.5), fillcolor="#ffffff"))
    text(465.5, (t + b) / 2, CNN_LABELS[i], size=12.5, color="#333333", angle=-90)

for d, c in LINKS:
    lt, lb = LEFT_ROWS[d - 1]
    rt, rb = RIGHT_ROWS[c - 1]
    shapes.append(dict(type="line", xref="paper", yref="paper", x0=px(406), y0=py((lt + lb) / 2),
                       x1=px(453), y1=py((rt + rb) / 2), line=dict(color="#8a8a8a", width=1)))

text(242, 256, "F", size=12, anchor="left", bold=True)
text(335, 259, "DTW clusters", size=15)
text(533, 259, "CNN features clusters", size=15)
text(240, 464, "SMAD2 activity [nuc/cyt]", size=15, angle=-90)
text(643, 464, "SMAD2 activity [nuc/cyt]", size=15, angle=-90)
text(323, 685, "Time [h]", size=15)
text(547, 685, "Time [h]", size=15)

fig.update_layout(width=W, height=H, margin=dict(l=0, r=0, t=0, b=0), paper_bgcolor="#ffffff", plot_bgcolor="#ffffff",
                  barmode="stack", bargap=0.1, annotations=annos, shapes=shapes, font=dict(family=FONT), **layout)
fig.write_html("out.html", config={"displayModeBar": False},
               post_script="document.body.style.margin='0';document.documentElement.style.overflow='hidden';")
